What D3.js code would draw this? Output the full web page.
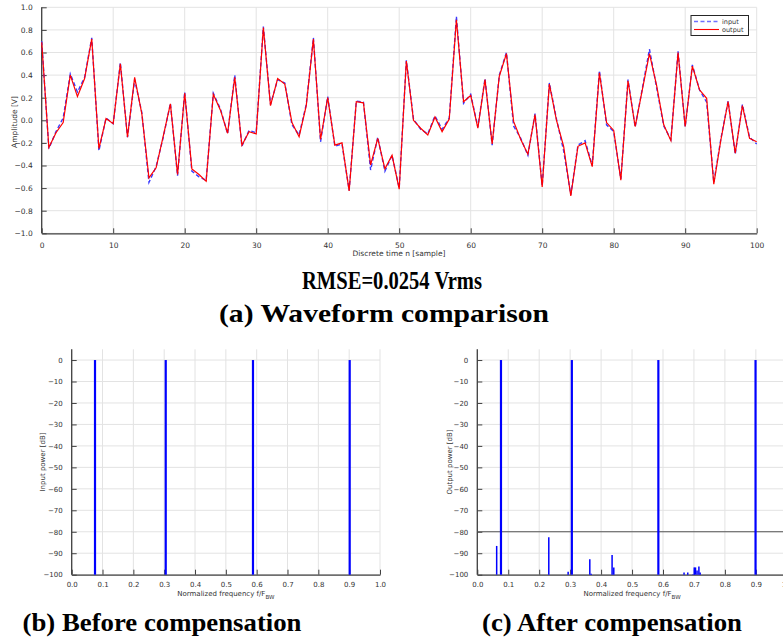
<!DOCTYPE html>
<html>
<head>
<meta charset="utf-8">
<script src="https://cdn.jsdelivr.net/npm/d3@7"></script>
<style>
  body { margin: 0; background: #fff; }
  svg { display: block; }
  .tick text { font-family: "DejaVu Sans", sans-serif; fill: #333; }
</style>
</head>
<body>
<div id="chart"></div>
<script>
// waveform samples n = 0..100
const outputWave = [
  0.69, -0.24, -0.11, -0.02, 0.40, 0.21, 0.37, 0.72, -0.25, 0.015,
  -0.03, 0.50, -0.15, 0.38, 0.06, -0.51, -0.42, -0.14, 0.145, -0.48,
  0.24, -0.43, -0.48, -0.54, 0.23, 0.09, -0.115, 0.38, -0.22, -0.10,
  -0.12, 0.82, 0.13, 0.37, 0.32, -0.02, -0.145, 0.13, 0.72, -0.17,
  0.20, -0.22, -0.20, -0.625, 0.165, 0.155, -0.395, -0.16, -0.43, -0.31,
  -0.61, 0.525, 0.00, -0.07, -0.13, 0.03, -0.10, 0.01, 0.89, 0.165,
  0.22, -0.07, 0.36, -0.21, 0.39, 0.59, -0.01, -0.17, -0.30, 0.05,
  -0.59, 0.32, 0.00, -0.23, -0.67, -0.23, -0.20, -0.41, 0.42, -0.02,
  -0.09, -0.53, 0.35, -0.055, 0.27, 0.59, 0.31, -0.04, -0.18, 0.60,
  -0.055, 0.48, 0.27, 0.195, -0.565, -0.17, 0.165, -0.29, 0.13, -0.16,
  -0.19
];
const inputWave = [
  0.70, -0.25, -0.10, 0.02, 0.41, 0.25, 0.38, 0.73, -0.27, 0.02,
  -0.03, 0.51, -0.15, 0.36, 0.07, -0.55, -0.41, -0.15, 0.15, -0.49,
  0.25, -0.45, -0.50, -0.53, 0.24, 0.10, -0.12, 0.40, -0.23, -0.09,
  -0.11, 0.83, 0.14, 0.36, 0.33, -0.04, -0.13, 0.14, 0.73, -0.19,
  0.21, -0.23, -0.21, -0.62, 0.17, 0.16, -0.44, -0.15, -0.45, -0.31,
  -0.60, 0.53, 0.01, -0.08, -0.12, 0.04, -0.08, 0.02, 0.92, 0.15,
  0.23, -0.06, 0.37, -0.22, 0.40, 0.60, -0.05, -0.16, -0.31, 0.06,
  -0.58, 0.33, 0.01, -0.27, -0.66, -0.22, -0.18, -0.40, 0.44, -0.04,
  -0.10, -0.52, 0.36, -0.06, 0.28, 0.63, 0.29, -0.05, -0.17, 0.61,
  -0.06, 0.49, 0.27, 0.16, -0.55, -0.16, 0.17, -0.30, 0.14, -0.15,
  -0.21
];

// spectrum before compensation
const beforeFreq = [0.0756, 0.305, 0.588, 0.9017];
const beforePow = [0, 0, 0, 0];

// spectrum after compensation
const afterFreq = [0.0765, 0.3055, 0.585, 0.899,
  0.0626, 0.231, 0.2935, 0.3635, 0.368, 0.4355, 0.441,
  0.668, 0.680, 0.697, 0.701, 0.705, 0.710, 0.716, 0.720];
const afterPow = [0, 0, 0, 0,
  -86.6, -82.6, -98.6, -92.8, -99.5, -90.8, -96.6,
  -99, -99, -99.8, -96.6, -96.6, -98, -96.2, -99];
const threshold = -80;

const waveTicksX = d3.range(0, 101, 10);
const waveTicksY = d3.range(-1, 1.01, 0.2);
const specTicksX = d3.range(0, 1.01, 0.1);
const specTicksY = d3.range(-100, 1, 10);

const width = 783, height = 638;
const svg = d3.select("#chart").append("svg")
  .attr("width", width).attr("height", height);

const gridColor = "#e3e3e3";
const axisColor = "#404040";

function drawFrame(g, x, y, ticksX, ticksY, fmtX, fmtY, fs, padX) {
  const [x0, x1] = x.range();
  const [y0, y1] = y.range();
  // grid
  g.append("g").selectAll("line").data(ticksX).join("line")
    .attr("x1", d => x(d)).attr("x2", d => x(d))
    .attr("y1", y0).attr("y2", y1)
    .attr("stroke", gridColor).attr("stroke-width", 1);
  g.append("g").selectAll("line").data(ticksY).join("line")
    .attr("x1", x0).attr("x2", x1)
    .attr("y1", d => y(d)).attr("y2", d => y(d))
    .attr("stroke", gridColor).attr("stroke-width", 1);

  const ax = g.append("g").attr("transform", `translate(0,${y0})`)
    .call(d3.axisBottom(x).tickValues(ticksX).tickFormat(fmtX)
      .tickSizeInner(-5).tickSizeOuter(0).tickPadding(padX));
  const ay = g.append("g").attr("transform", `translate(${x0},0)`)
    .call(d3.axisLeft(y).tickValues(ticksY).tickFormat(fmtY)
      .tickSizeInner(-5).tickSizeOuter(0).tickPadding(9));
  [ax, ay].forEach(a => {
    a.select(".domain").attr("stroke", axisColor).attr("stroke-width", 1.3);
    a.selectAll(".tick line").attr("stroke", axisColor).attr("stroke-width", 1);
    a.selectAll(".tick text").attr("font-size", fs);
  });
  ay.select(".domain").attr("d", `M0,${y0}V${y1}`);
}

// ---- (a) waveform ----
const xW = d3.scaleLinear().domain([0, 100]).range([41.7, 756.7]);
const yW = d3.scaleLinear().domain([-1, 1]).range([233.3, 7.3]);
const gW = svg.append("g");
drawFrame(gW, xW, yW, waveTicksX, waveTicksY, d3.format("d"), d3.format(".1f"), 7.5, 9);

const line = d3.line().x((d, i) => xW(i)).y(d => yW(d));
gW.append("path").datum(inputWave).attr("d", line)
  .attr("fill", "none").attr("stroke", "#3a3aff").attr("stroke-width", 1.4)
  .attr("stroke-dasharray", "4,2.5");
gW.append("path").datum(outputWave).attr("d", line)
  .attr("fill", "none").attr("stroke", "#ff0000").attr("stroke-width", 1.2);

gW.append("text").attr("x", 399).attr("y", 256).attr("text-anchor", "middle")
  .attr("font-family", "DejaVu Sans, sans-serif").attr("font-size", 7.5).attr("fill", "#333")
  .text("Discrete time n [sample]");
gW.append("text").attr("transform", "translate(17,122) rotate(-90)").attr("text-anchor", "middle")
  .attr("font-family", "DejaVu Sans, sans-serif").attr("font-size", 7.5).attr("fill", "#333")
  .text("Amplitude [V]");

// legend
const lg = gW.append("g").attr("transform", "translate(691,15.5)");
lg.append("rect").attr("width", 57.5).attr("height", 20)
  .attr("fill", "#fff").attr("stroke", "#262626").attr("stroke-width", 1);
lg.append("line").attr("x1", 3).attr("x2", 28).attr("y1", 6).attr("y2", 6)
  .attr("stroke", "#7070ff").attr("stroke-width", 1.4).attr("stroke-dasharray", "4,2.5");
lg.append("line").attr("x1", 3).attr("x2", 28).attr("y1", 14).attr("y2", 14)
  .attr("stroke", "#ff0000").attr("stroke-width", 1.1);
lg.append("text").attr("x", 31).attr("y", 8.5).attr("font-family", "DejaVu Sans, sans-serif")
  .attr("font-size", 6.5).attr("fill", "#333").text("input");
lg.append("text").attr("x", 31).attr("y", 16.5).attr("font-family", "DejaVu Sans, sans-serif")
  .attr("font-size", 6.5).attr("fill", "#333").text("output");

// ---- spectra ----
function spectrum(x0, x1, freqs, pows, ylabel, labelX, withThreshold) {
  const x = d3.scaleLinear().domain([0, 1]).range([x0, x1]);
  const y = d3.scaleLinear().domain([-100, 5]).range([574.7, 349.3]);
  const g = svg.append("g");
  drawFrame(g, x, y, specTicksX, specTicksY, d3.format(".1f"), d3.format("d"), 7, 7);
  if (withThreshold) {
    g.append("line").attr("x1", x0).attr("x2", x1)
      .attr("y1", y(threshold)).attr("y2", y(threshold))
      .attr("stroke", "#555").attr("stroke-width", 1.1);
  }
  g.append("g").selectAll("line").data(freqs).join("line")
    .attr("x1", d => x(d)).attr("x2", d => x(d))
    .attr("y1", y(-100)).attr("y2", (d, i) => y(pows[i]))
    .attr("stroke", "#0000ff")
    .attr("stroke-width", (d, i) => pows[i] === 0 ? 2.2 : 1.5);
  const xl = g.append("text").attr("x", (x0 + x1) / 2).attr("y", 596)
    .attr("text-anchor", "middle").attr("font-family", "DejaVu Sans, sans-serif")
    .attr("font-size", 7).attr("fill", "#333");
  xl.append("tspan").text("Normalized frequency f/F");
  xl.append("tspan").attr("dy", 2.5).attr("font-size", 5.5).text("BW");
  g.append("text").attr("transform", `translate(${labelX},462) rotate(-90)`)
    .attr("text-anchor", "middle").attr("font-family", "DejaVu Sans, sans-serif")
    .attr("font-size", 7).attr("fill", "#333").text(ylabel);
}
spectrum(71.7, 380, beforeFreq, beforePow, "Input power [dB]", 45, false);
spectrum(477.3, 786.8, afterFreq, afterPow, "Output power [dB]", 452, true);

// captions
function caption(txt, cx, y, len) {
  svg.append("text").attr("x", cx).attr("y", y).attr("text-anchor", "middle")
    .attr("font-family", "Liberation Serif, serif").attr("font-weight", "bold")
    .attr("font-size", 26).attr("fill", "#000")
    .attr("textLength", len).attr("lengthAdjust", "spacingAndGlyphs")
    .text(txt);
}
caption("RMSE=0.0254 Vrms", 392, 289, 180);
caption("(a) Waveform comparison", 384, 322, 330);
caption("(b) Before compensation", 162, 631, 279);
caption("(c) After compensation", 612, 631, 260);
</script>
</body>
</html>
